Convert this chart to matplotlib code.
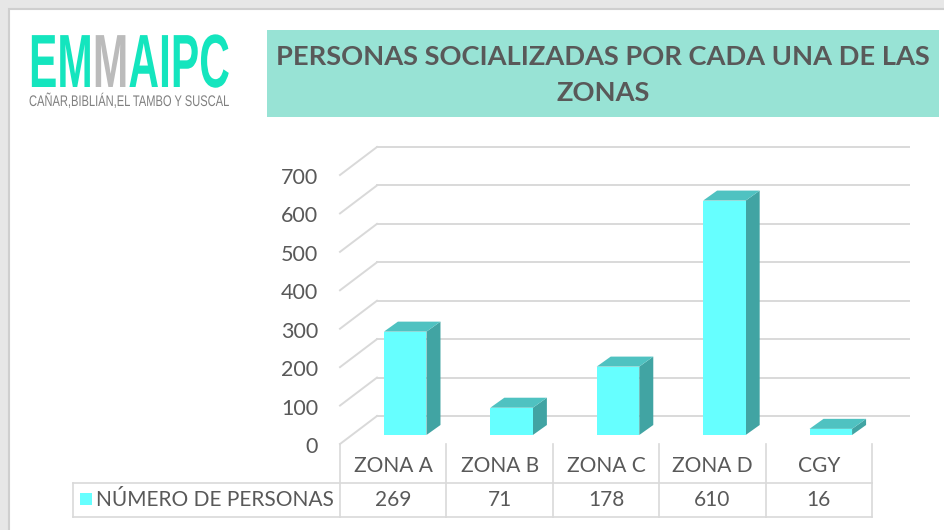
import matplotlib
matplotlib.use("Agg")
import matplotlib.pyplot as plt
from matplotlib.patches import Rectangle, Polygon
from matplotlib.patheffects import AbstractPathEffect
from matplotlib.transforms import Affine2D

# chart data
categories = ["ZONA A", "ZONA B", "ZONA C", "ZONA D", "CGY"]
personas = [269, 71, 178, 610, 16]
y_ticks = [0, 100, 200, 300, 400, 500, 600, 700]
series_name = "NÚMERO DE PERSONAS"
title_lines = ["PERSONAS SOCIALIZADAS POR CADA UNA DE LAS", "ZONAS"]
logo_parts = ["EM", "M", "AIPC"]
logo_colors = ["#14E5BE", "#BBBBBB", "#14E5BE"]
logo_sub = "CAÑAR,BIBLIÁN,EL TAMBO Y SUSCAL"

W, H = 945, 530
TEXT = "#595959"
GRID = "#D9D9D9"
FRONT, TOP, SIDE = "#66FFFF", "#4FC2C1", "#41A4A3"
CAP = 0.716  # cap height of Liberation Sans, in em


class Stretch(AbstractPathEffect):
    """Stretch glyphs vertically: display y `src` goes to `dst`, scaled by sy."""
    def __init__(self, sy, src, dst):
        super().__init__()
        self.sy, self.src, self.dst = sy, src, dst

    def draw_path(self, renderer, gc, tpath, affine, rgbFace=None):
        st = Affine2D().translate(0, -self.src).scale(1, self.sy).translate(0, self.dst)
        renderer.draw_path(gc, tpath, affine + st, rgbFace)


fig = plt.figure(figsize=(W / 100, H / 100), dpi=100)
fig.patch.set_facecolor("#E7E7E7")
renderer = fig.canvas.get_renderer()

# background / pixel layer
bg = fig.add_axes([0, 0, 1, 1])
bg.set_xlim(0, W)
bg.set_ylim(H, 0)
bg.axis("off")
bg.add_patch(Rectangle((9, 9), W, H, facecolor="white", edgecolor="#CFCFCF", lw=1.5))

# logo: tall condensed look -> natural width, stretched up
logo_x, logo_w, logo_base, logo_cap = 29, 200, 87, 54
probe = bg.text(0, 0, "".join(logo_parts), fontsize=30, fontweight="bold",
                family="Liberation Sans")
logo_fs = 30 * logo_w / probe.get_window_extent(renderer).width
probe.remove()
text_base = logo_base - 8
sy = logo_cap / (CAP * logo_fs * 100 / 72)
x = logo_x
for part, col in zip(logo_parts, logo_colors):
    t = bg.text(x, text_base, part, fontsize=logo_fs, fontweight="bold",
                family="Liberation Sans", color=col, va="baseline", ha="left")
    t.set_path_effects([Stretch(sy, H - text_base, H - logo_base)])
    x = t.get_window_extent(renderer).x1

sub = bg.text(logo_x, 106, logo_sub, fontsize=10, family="Liberation Sans",
              color="#808080", va="baseline", ha="left")
sub_fs = 10 * logo_w / sub.get_window_extent(renderer).width
sub.set_fontsize(sub_fs)
sub.set_path_effects([Stretch(11 / (CAP * sub_fs * 100 / 72), H - 106, H - 106)])

# title box
bg.add_patch(Rectangle((267, 30), 672, 87, facecolor="#98E3D5", edgecolor="none"))
t1 = bg.text(603, 57, title_lines[0], fontsize=20, fontweight="bold", family="Lato",
             color=TEXT, ha="center", va="center")
fs = 20 * 654 / t1.get_window_extent(renderer).width
t1.set_fontsize(fs)
bg.text(603, 93, title_lines[1], fontsize=fs, fontweight="bold", family="Lato",
        color=TEXT, ha="center", va="center")

# chart axes = front plane of the 3d box
left_px, right_px, floor_px, top_px = 340, 872, 444, 175
ax = fig.add_axes([left_px / W, (H - floor_px) / H, (right_px - left_px) / W,
                   (floor_px - top_px) / H])
n = len(categories)
ax.set_xlim(-0.5, n - 0.5)
ax.set_ylim(0, y_ticks[-1])
ax.axis("off")

cat_px = (right_px - left_px) / n
val_px = (floor_px - top_px) / y_ticks[-1]
ddx, ddy = 37 / cat_px, 28 / val_px      # wall depth
ox, oy = 12 / cat_px, 9 / val_px         # bar placement in depth
bdx, bdy = 14 / cat_px, 10 / val_px      # bar depth
bw = 0.4

x0 = -0.5
for v in y_ticks:
    ax.plot([x0, x0 + ddx], [v, v + ddy], color=GRID, lw=1.4, clip_on=False, zorder=1)
    ax.plot([x0 + ddx, n - 0.5 + ddx], [v + ddy, v + ddy], color=GRID, lw=1.4,
            clip_on=False, zorder=1)
    ax.text(x0 - 22 / cat_px, v - 3 / val_px, str(v), ha="right", va="center",
            fontsize=15.5, family="Lato", color=TEXT, clip_on=False)

for i, v in enumerate(personas):
    a, b = i - bw / 2 + ox, i + bw / 2 + ox
    y0, y1 = oy, v + oy
    ax.add_patch(Polygon([(b, y0), (b + bdx, y0 + bdy), (b + bdx, y1 + bdy), (b, y1)],
                         facecolor=SIDE, edgecolor="none", clip_on=False, zorder=3))
    ax.add_patch(Polygon([(a, y1), (b, y1), (b + bdx, y1 + bdy), (a + bdx, y1 + bdy)],
                         facecolor=TOP, edgecolor="none", clip_on=False, zorder=3))
    ax.add_patch(Rectangle((a, y0), b - a, y1 - y0, facecolor=FRONT, edgecolor="none",
                           clip_on=False, zorder=4))

# data table
row1, row2, row3 = floor_px, 483, 517
tab_left = 73
for k in range(n + 1):
    xx = left_px + k * cat_px
    bg.plot([xx, xx], [row1, row3], color=GRID, lw=1.2)
bg.plot([tab_left, tab_left], [row2, row3], color=GRID, lw=1.2)
for yy in (row2, row3):
    bg.plot([tab_left, right_px], [yy, yy], color=GRID, lw=1.2)

for k, (cat, v) in enumerate(zip(categories, personas)):
    cx = left_px + (k + 0.5) * cat_px
    bg.text(cx, (row1 + row2) / 2 + 2, cat, ha="center", va="center", fontsize=15,
            family="Lato", color=TEXT)
    bg.text(cx, (row2 + row3) / 2, str(v), ha="center", va="center", fontsize=15,
            family="Lato", color=TEXT)

bg.add_patch(Rectangle((80, 493), 12, 12, facecolor=FRONT, edgecolor="none"))
bg.text(96, (row2 + row3) / 2, series_name, ha="left", va="center", fontsize=15,
        family="Lato", color=TEXT)

fig.savefig("out.png", dpi=100, facecolor=fig.get_facecolor())
